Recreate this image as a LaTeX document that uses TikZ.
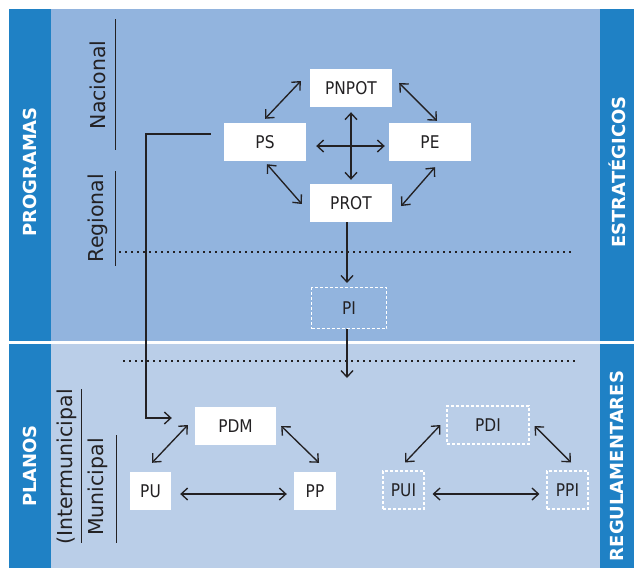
\documentclass[tikz,border=0pt]{standalone}
\usepackage{fontspec}
\setmainfont{DejaVu Sans}
\newfontfamily\boxfont{DejaVu Sans}[FakeStretch=0.88]
\usetikzlibrary{arrows.meta}
\definecolor{band}{RGB}{31,129,197}
\definecolor{topbg}{RGB}{146,180,222}
\definecolor{botbg}{RGB}{186,206,232}
\definecolor{ink}{RGB}{35,33,35}
\tikzset{
  planbox/.style={fill=white, inner sep=0pt, minimum width=82pt, minimum height=38pt, font=\boxfont\fontsize{17.5}{17.5}\selectfont, text=ink},
  smallbox/.style={planbox, minimum width=41pt},
  dashbox/.style={draw=white, line width=1.1pt, dash pattern=on 3pt off 2pt, inner sep=0pt, minimum width=82pt, minimum height=38pt, font=\boxfont\fontsize{17.5}{17.5}\selectfont, text=ink},
  smalldash/.style={dashbox, minimum width=41pt},
  biarrow/.style={draw=ink, line width=1.35pt, {Straight Barb[length=6.5pt,width=12pt]}-{Straight Barb[length=6.5pt,width=12pt]}},
  onearrow/.style={draw=ink, line width=1.35pt, -{Straight Barb[length=6.5pt,width=12pt]}},
  dotline/.style={draw=ink, line width=1.8pt, dash pattern=on 1.8pt off 4.2pt},
  sepline/.style={draw=ink, line width=1pt},
  levellabel/.style={rotate=90, font=\fontsize{20.5}{20.5}\selectfont, text=ink, inner sep=0pt},
  bandlabel/.style={rotate=90, font=\bfseries\fontsize{18}{18}\selectfont, text=white, inner sep=0pt}
}
\begin{document}
\begin{tikzpicture}[x=1pt,y=-1pt]
\useasboundingbox (0,0) rectangle (634,568);
% backgrounds
\fill[topbg] (51,9) rectangle (600,341);
\fill[botbg] (51,344) rectangle (600,568);
\fill[band] (9,9) rectangle (51,341);
\fill[band] (9,344) rectangle (51,568);
\fill[band] (600,9) rectangle (634,341);
\fill[band] (600,344) rectangle (634,568);
% band labels
\node[bandlabel] (progr) at (30,172) {PROGRAMAS};
\node[bandlabel] (estr) at (617,172) {ESTRATÉGICOS};
\node[bandlabel] (planos) at (30,466) {PLANOS};
\node[bandlabel] (regul) at (617,466) {REGULAMENTARES};
% level labels and lines
\node[levellabel] (nac) at (98,85) {Nacional};
\draw[sepline] (115,19) -- (115,150);
\node[levellabel] (reg) at (98,218) {Regional};
\draw[sepline] (115,171) -- (115,266);
\node[levellabel] (inter) at (67,467) {(Intermunicipal};
\draw[sepline] (81,389) -- (81,543);
\node[levellabel] (mun) at (98,487) {Municipal};
\draw[sepline] (116,435) -- (116,543);
% dotted lines
\draw[dotline] (119,252) -- (572,252);
\draw[dotline] (123,361) -- (575,361);
% upper boxes
\node[planbox] (PNPOT) at (351,88) {PNPOT};
\node[planbox] (PS) at (265,142) {PS};
\node[planbox] (PE) at (430,142) {PE};
\node[planbox] (PROT) at (351,203) {PROT};
\node[dashbox, minimum width=75pt, minimum height=41pt] (PI) at (349,308) {PI};
% lower boxes
\node[planbox, minimum width=81pt] (PDM) at (235.5,426) {PDM};
\node[smallbox] (PU) at (150.5,491) {PU};
\node[smallbox, minimum width=42pt] (PP) at (315,491) {PP};
\node[dashbox] (PDI) at (488,425) {PDI};
\node[smalldash] (PUI) at (403.5,490) {PUI};
\node[smalldash] (PPI) at (567.5,490) {PPI};
% upper connectors
\draw[biarrow] ([yshift=4pt]PS.north) -- ([xshift=-9pt,yshift=7pt]PNPOT.west);
\draw[biarrow] ([xshift=7pt,yshift=5pt]PNPOT.east) -- ([xshift=7pt,yshift=2pt]PE.north);
\draw[biarrow] ([xshift=2pt,yshift=-3pt]PS.south) -- ([xshift=-8pt,yshift=-1pt]PROT.west);
\draw[biarrow] ([xshift=9pt,yshift=-3pt]PROT.east) -- ([xshift=5pt,yshift=-6pt]PE.south);
\draw[biarrow] ([yshift=-5pt]PNPOT.south) -- ([yshift=4pt]PROT.north);
\draw[biarrow] ([xshift=10pt,yshift=-4pt]PS.east) -- ([xshift=-4pt,yshift=-4pt]PE.west);
\draw[onearrow] ([xshift=-4pt]PROT.south) -- ([xshift=-2pt,yshift=4pt]PI.north);
\coordinate (below) at (347,378);
\draw[onearrow] ([xshift=-2pt]PI.south) -- (below);
\draw[onearrow] ([xshift=-13pt,yshift=8pt]PS.west) -| (146,418) -- ([xshift=-23pt,yshift=8pt]PDM.west);
% lower connectors
\draw[biarrow] ([xshift=1.5pt,yshift=9pt]PU.north) -- ([xshift=-7pt,yshift=1pt]PDM.west);
\draw[biarrow] ([xshift=5pt]PDM.east) -- ([xshift=4pt,yshift=9pt]PP.north);
\draw[biarrow] ([xshift=9pt,yshift=-3pt]PU.east) -- ([xshift=-7pt,yshift=-3pt]PP.west);
\draw[biarrow] ([xshift=1.5pt,yshift=8pt]PUI.north) -- ([xshift=-6pt]PDI.west);
\draw[biarrow] ([xshift=5pt,yshift=-1pt]PDI.east) -- ([xshift=3.5pt,yshift=8pt]PPI.north);
\draw[biarrow] ([xshift=8pt,yshift=-4pt]PUI.east) -- ([xshift=-7pt,yshift=-4pt]PPI.west);
\end{tikzpicture}
\end{document}
